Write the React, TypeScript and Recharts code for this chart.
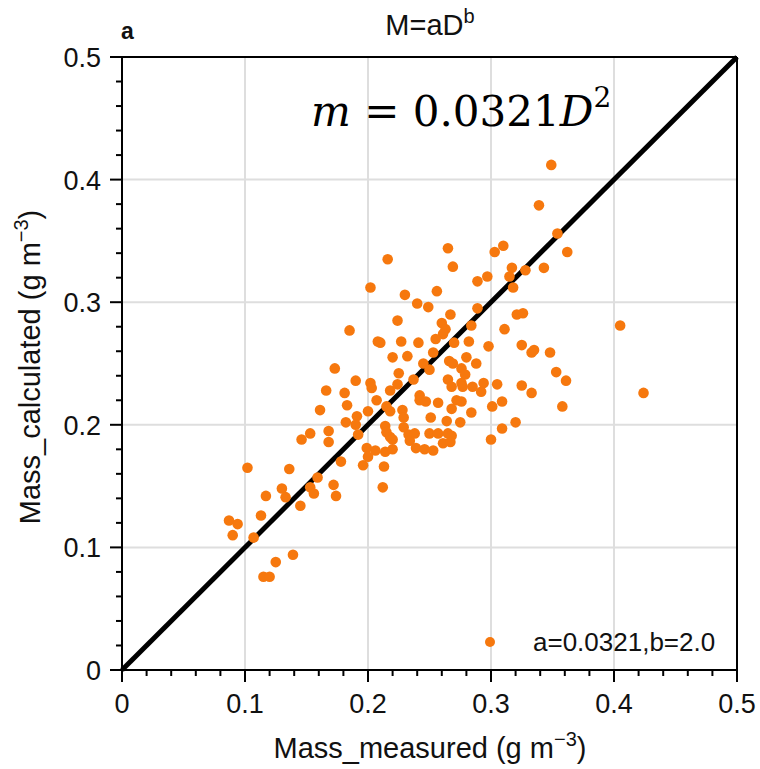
import React from 'react';
import { ScatterChart, Scatter, XAxis, YAxis, CartesianGrid, ReferenceLine, Legend } from 'recharts';

const measured = [
  0.349, 0.339, 0.354, 0.362, 0.310, 0.303, 0.265, 0.269, 0.216, 0.202,
  0.317, 0.315, 0.328, 0.343, 0.297, 0.289, 0.318, 0.256, 0.230, 0.240,
  0.249, 0.289, 0.267, 0.321, 0.326, 0.224, 0.260, 0.263, 0.261, 0.284,
  0.311, 0.405, 0.185, 0.210, 0.227, 0.241, 0.255, 0.270, 0.282, 0.208,
  0.298, 0.325, 0.333, 0.335, 0.348, 0.220, 0.232, 0.253, 0.266, 0.269,
  0.280, 0.288, 0.245, 0.173, 0.250, 0.276, 0.279, 0.225, 0.353, 0.190,
  0.202, 0.203, 0.237, 0.265, 0.268, 0.276, 0.277, 0.285, 0.294, 0.292,
  0.305, 0.325, 0.333, 0.361, 0.424, 0.166, 0.181, 0.218, 0.224, 0.207,
  0.242, 0.242, 0.247, 0.257, 0.272, 0.276, 0.309, 0.301, 0.358, 0.161,
  0.183, 0.200, 0.215, 0.218, 0.228, 0.229, 0.268, 0.284, 0.191, 0.251,
  0.264, 0.275, 0.320, 0.182, 0.190, 0.214, 0.229, 0.309, 0.168, 0.153,
  0.146, 0.215, 0.218, 0.220, 0.233, 0.238, 0.234, 0.250, 0.257, 0.265,
  0.268, 0.261, 0.267, 0.300, 0.168, 0.192, 0.199, 0.206, 0.214, 0.220,
  0.239, 0.246, 0.253, 0.178, 0.196, 0.200, 0.213, 0.102, 0.136, 0.159,
  0.212, 0.130, 0.133, 0.153, 0.156, 0.172, 0.174, 0.117, 0.145, 0.113,
  0.087, 0.094, 0.090, 0.107, 0.139, 0.125, 0.115, 0.120,
];

const calculated = [
  0.412, 0.379, 0.356, 0.341, 0.346, 0.341, 0.344, 0.329, 0.335, 0.312,
  0.328, 0.321, 0.326, 0.328, 0.321, 0.317, 0.312, 0.309, 0.306, 0.299,
  0.296, 0.295, 0.290, 0.290, 0.291, 0.285, 0.283, 0.278, 0.274, 0.281,
  0.278, 0.281, 0.277, 0.267, 0.268, 0.267, 0.270, 0.267, 0.268, 0.268,
  0.264, 0.265, 0.259, 0.261, 0.259, 0.255, 0.256, 0.259, 0.252, 0.250,
  0.255, 0.250, 0.250, 0.246, 0.245, 0.246, 0.241, 0.242, 0.243, 0.236,
  0.234, 0.230, 0.237, 0.237, 0.231, 0.234, 0.231, 0.231, 0.234, 0.227,
  0.233, 0.232, 0.226, 0.236, 0.226, 0.228, 0.226, 0.228, 0.233, 0.220,
  0.224, 0.220, 0.219, 0.218, 0.220, 0.219, 0.219, 0.215, 0.215, 0.212,
  0.216, 0.211, 0.215, 0.211, 0.212, 0.206, 0.213, 0.210, 0.207, 0.206,
  0.203, 0.202, 0.202, 0.202, 0.200, 0.199, 0.198, 0.197, 0.195, 0.193,
  0.188, 0.194, 0.190, 0.188, 0.192, 0.193, 0.187, 0.193, 0.193, 0.193,
  0.191, 0.185, 0.186, 0.188, 0.186, 0.192, 0.181, 0.179, 0.178, 0.180,
  0.181, 0.180, 0.179, 0.170, 0.167, 0.174, 0.166, 0.165, 0.164, 0.157,
  0.149, 0.148, 0.141, 0.149, 0.144, 0.151, 0.142, 0.142, 0.134, 0.126,
  0.122, 0.119, 0.110, 0.108, 0.094, 0.088, 0.076, 0.076,
];

const axisTicks = [
  0, 0.02, 0.04, 0.06, 0.08, 0.1, 0.12, 0.14, 0.16, 0.18, 0.2, 0.22, 0.24,
  0.26, 0.28, 0.3, 0.32, 0.34, 0.36, 0.38, 0.4, 0.42, 0.44, 0.46, 0.48, 0.5,
];
const majorTicks = [0, 0.1, 0.2, 0.3, 0.4, 0.5];
const tickLabels = ['0', '0.1', '0.2', '0.3', '0.4', '0.5'];
const fitSegment = [
  { x: 0, y: 0 },
  { x: 0.5, y: 0.5 },
];
const seriesName = 'a=0.0321,b=2.0';
const panelLabel = 'a';
const xTitle = 'Mass_measured (g m';
const yTitle = 'Mass_calculated (g m';
const unitExp = '\u22123';

const points = measured.map((x, i) => ({ x, y: calculated[i] }));

const FONT = '"Liberation Sans", Arial, Helvetica, sans-serif';
const ORANGE = '#f6780e';

const majorIndex = (v: number) => majorTicks.findIndex((m) => Math.abs(m - v) < 1e-9);

const XTick = (props: any) => {
  const { x, y, payload } = props;
  const idx = majorIndex(payload.value);
  const major = idx >= 0;
  return (
    <g>
      <line x1={x} x2={x} y1={y} y2={y + (major ? 12 : 6)} stroke="#000" strokeWidth={2} />
      {major && (
        <text x={x} y={y + 43} textAnchor="middle" fontSize={27} fontFamily={FONT} fill="#111">
          {tickLabels[idx]}
        </text>
      )}
    </g>
  );
};

const YTick = (props: any) => {
  const { x, y, payload } = props;
  const idx = majorIndex(payload.value);
  const major = idx >= 0;
  return (
    <g>
      <line x1={x} x2={x - (major ? 12 : 6)} y1={y} y2={y} stroke="#000" strokeWidth={2} />
      {major && (
        <text x={x - 21} y={y + 10} textAnchor="end" fontSize={27} fontFamily={FONT} fill="#111">
          {tickLabels[idx]}
        </text>
      )}
    </g>
  );
};

const LegendContent = () => (
  <svg width={270} height={36} style={{ display: 'block' }}>
    <circle cx={10} cy={17} r={5} fill={ORANGE} />
    <text x={53} y={26} fontSize={26} fontFamily={FONT} fill="#111">
      {seriesName}
    </text>
  </svg>
);

export default function App() {
  return (
    <div style={{ position: 'absolute', left: 0, top: 0, width: 760, height: 769, background: '#fff' }}>
      <ScatterChart width={760} height={769} margin={{ top: 57, right: 23, bottom: 39, left: 62 }}>
        <CartesianGrid
          horizontalValues={majorTicks}
          verticalValues={majorTicks}
          stroke="#dedede"
          strokeWidth={2}
        />
        <XAxis
          type="number"
          dataKey="x"
          domain={[0, 0.5]}
          ticks={axisTicks}
          interval={0}
          tick={<XTick />}
          tickLine={false}
          tickSize={0}
          tickMargin={0}
          height={60}
          axisLine={{ stroke: '#000', strokeWidth: 2 }}
          allowDataOverflow
        />
        <YAxis
          type="number"
          dataKey="y"
          domain={[0, 0.5]}
          ticks={axisTicks}
          interval={0}
          tick={<YTick />}
          tickLine={false}
          tickSize={0}
          tickMargin={0}
          width={60}
          axisLine={{ stroke: '#000', strokeWidth: 2 }}
          allowDataOverflow
        />
        <Scatter
          name={seriesName}
          data={points}
          fill={ORANGE}
          shape={(p: any) => <circle cx={p.cx} cy={p.cy} r={5.3} fill={ORANGE} />}
          isAnimationActive={false}
        />
        <ReferenceLine y={0.5} stroke="#000" strokeWidth={2} />
        <ReferenceLine x={0.5} stroke="#000" strokeWidth={2} />
        <ReferenceLine segment={fitSegment} stroke="#000" strokeWidth={5} />
        <Legend
          layout="vertical"
          align="center"
          verticalAlign="middle"
          content={<LegendContent />}
          wrapperStyle={{ position: 'absolute', left: 480, top: 625, width: 270, height: 36 }}
        />
      </ScatterChart>
      <svg
        width={760}
        height={769}
        style={{ position: 'absolute', left: 0, top: 0, pointerEvents: 'none' }}
      >
        <text x={121} y={39} fontSize={23} fontWeight="bold" fontFamily={FONT} fill="#111">
          {panelLabel}
        </text>
        <text x={430} y={35} textAnchor="middle" fontSize={29} fontFamily={FONT} fill="#111">
          M=aD
          <tspan fontSize={20} dy={-12}>b</tspan>
        </text>
        <text x={311} y={126} fontSize={42} fontFamily='"DejaVu Serif", "Liberation Serif", serif' fill="#000">
          <tspan fontStyle="italic">m</tspan>
          <tspan> = 0.0321</tspan>
          <tspan fontStyle="italic">D</tspan>
          <tspan fontSize={28} dy={-19}>2</tspan>
        </text>
        <text x={430} y={758} textAnchor="middle" fontSize={29} fontFamily={FONT} fill="#111">
          {xTitle}
          <tspan fontSize={20} dy={-12}>{unitExp}</tspan>
          <tspan dy={12}>)</tspan>
        </text>
        <text
          x={0}
          y={0}
          transform="translate(40,367) rotate(-90)"
          textAnchor="middle"
          fontSize={29}
          fontFamily={FONT}
          fill="#111"
        >
          {yTitle}
          <tspan fontSize={20} dy={-12}>{unitExp}</tspan>
          <tspan dy={12}>)</tspan>
        </text>
      </svg>
    </div>
  );
}
